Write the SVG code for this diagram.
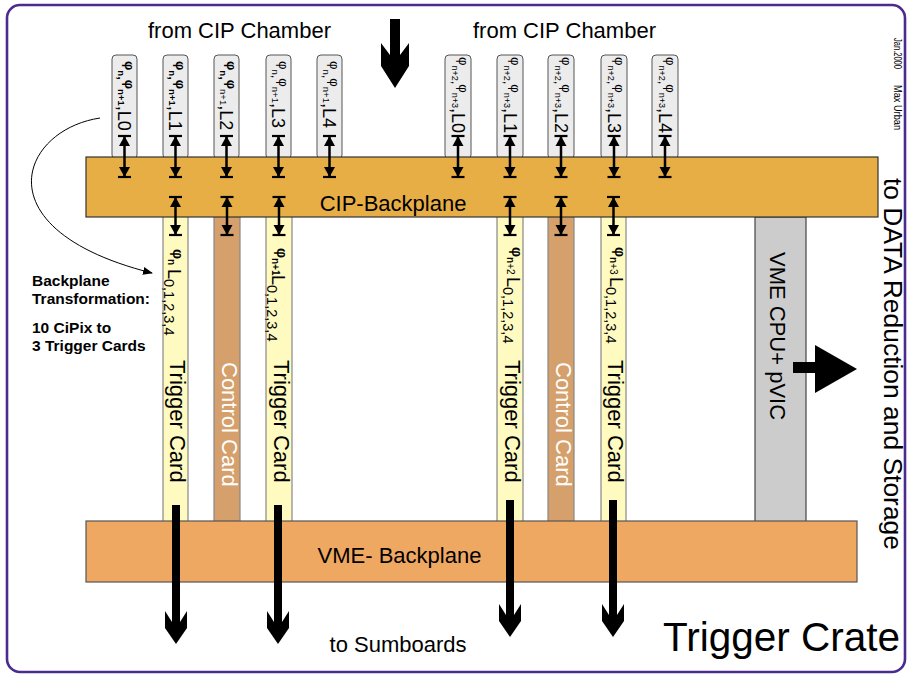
<svg xmlns="http://www.w3.org/2000/svg" width="909" height="675" viewBox="0 0 909 675">
<style>
text{font-family:"Liberation Sans",Arial,Helvetica,sans-serif;fill:#000}
.cip{fill:#ececec;stroke:#555;stroke-width:1}
.trig{fill:#fffac0;stroke:#888;stroke-width:1.2}
.ctrl{fill:#d5a06b;stroke:#888;stroke-width:1.2}
.bp1{fill:#e8ae46;stroke:#333;stroke-width:1.2}
.bp2{fill:#efa862;stroke:#555;stroke-width:1.2}
.cpu{fill:#cccccc;stroke:#444;stroke-width:1.2}
.dbl{stroke:#000;stroke-width:2.5;fill:none;marker-start:url(#cap);marker-end:url(#cap)}
.big{fill:#000;stroke:none}
.b{font-weight:bold}
.lbl{font-size:22px}
.wh{fill:#fff}
</style>
<defs>
<marker id="cap" viewBox="-12 -8 14 16" refX="0" refY="0" markerWidth="14" markerHeight="16" markerUnits="userSpaceOnUse" orient="auto-start-reverse">
<path d="M-10,-5.5 L0,0 L-10,5.5 Z" fill="#000"/>
<path d="M0,-6.5 V6.5" stroke="#000" stroke-width="2.2"/>
</marker>
<marker id="thin" viewBox="0 0 10 10" refX="9" refY="5" markerWidth="10" markerHeight="10" markerUnits="userSpaceOnUse" orient="auto">
<path d="M0,1 L10,5 L0,9 Z" fill="#000"/>
</marker>
</defs>

<rect id="frame" x="7" y="5" width="898" height="667" rx="13" fill="#fff" stroke="#4b2b8e" stroke-width="2.6"/>

<!-- CiPix cards -->
<g id="cip1"><rect class="cip" x="112" y="55" width="25" height="104" rx="4"/>
<text transform="translate(118,61) rotate(90)" class="b"><tspan font-size="13" dy="-7">φ</tspan><tspan font-size="9.5" dy="7">n</tspan><tspan font-size="13">,</tspan><tspan font-size="13" dy="-7">φ</tspan><tspan font-size="9.5" dy="7">n+1</tspan><tspan font-size="18" font-weight="normal">,L0</tspan></text></g>
<g id="cip2"><rect class="cip" x="163" y="55" width="25" height="104" rx="4"/>
<text transform="translate(169,61) rotate(90)" class="b"><tspan font-size="13" dy="-7">φ</tspan><tspan font-size="9.5" dy="7">n</tspan><tspan font-size="13">,</tspan><tspan font-size="13" dy="-7">φ</tspan><tspan font-size="9.5" dy="7">n+1</tspan><tspan font-size="18" font-weight="normal">,L1</tspan></text></g>
<g id="cip3"><rect class="cip" x="214" y="55" width="25" height="104" rx="4"/>
<text transform="translate(220,61) rotate(90)" class="b"><tspan font-size="13" dy="-7">φ</tspan><tspan font-size="9.5" dy="7">n</tspan><tspan font-size="13">,</tspan><tspan font-size="13" dy="-7">φ</tspan><tspan font-size="9.5" dy="7" font-weight="normal">n+1</tspan><tspan font-size="18" font-weight="normal">,L2</tspan></text></g>
<g id="cip4"><rect class="cip" x="266" y="55" width="25" height="104" rx="4"/>
<text transform="translate(272,61) rotate(90)"><tspan font-size="13" dy="-7">φ</tspan><tspan font-size="9.5" dy="7">n</tspan><tspan font-size="13">,</tspan><tspan font-size="13" dy="-7">φ</tspan><tspan font-size="9.5" dy="7">n+1</tspan><tspan font-size="18">,L3</tspan></text></g>
<g id="cip5"><rect class="cip" x="317" y="55" width="25" height="104" rx="4"/>
<text transform="translate(323,61) rotate(90)"><tspan font-size="13" dy="-7">φ</tspan><tspan font-size="9.5" dy="7">n</tspan><tspan font-size="13">,</tspan><tspan font-size="13" dy="-7">φ</tspan><tspan font-size="9.5" dy="7">n+1</tspan><tspan font-size="18">,L4</tspan></text></g>

<g id="cip6"><rect class="cip" x="445" y="55" width="26" height="104" rx="4"/>
<text transform="translate(451.5,57) rotate(90)"><tspan font-size="13" dy="-7">φ</tspan><tspan font-size="9" dy="7">n+2</tspan><tspan font-size="13">,</tspan><tspan font-size="13" dy="-7">φ</tspan><tspan font-size="9" dy="7">n+3</tspan><tspan font-size="18">,L0</tspan></text></g>
<g id="cip7"><rect class="cip" x="497" y="55" width="26" height="104" rx="4"/>
<text transform="translate(503.5,57) rotate(90)"><tspan font-size="13" dy="-7">φ</tspan><tspan font-size="9" dy="7">n+2</tspan><tspan font-size="13">,</tspan><tspan font-size="13" dy="-7">φ</tspan><tspan font-size="9" dy="7">n+3</tspan><tspan font-size="18">,L1</tspan></text></g>
<g id="cip8"><rect class="cip" x="548" y="55" width="26" height="104" rx="4"/>
<text transform="translate(554.5,57) rotate(90)"><tspan font-size="13" dy="-7">φ</tspan><tspan font-size="9" dy="7">n+2</tspan><tspan font-size="13">,</tspan><tspan font-size="13" dy="-7">φ</tspan><tspan font-size="9" dy="7">n+3</tspan><tspan font-size="18">,L2</tspan></text></g>
<g id="cip9"><rect class="cip" x="601" y="55" width="26" height="104" rx="4"/>
<text transform="translate(607.5,57) rotate(90)"><tspan font-size="13" dy="-7">φ</tspan><tspan font-size="9" dy="7">n+2</tspan><tspan font-size="13">,</tspan><tspan font-size="13" dy="-7">φ</tspan><tspan font-size="9" dy="7">n+3</tspan><tspan font-size="18">,L3</tspan></text></g>
<g id="cip10"><rect class="cip" x="652" y="55" width="26" height="104" rx="4"/>
<text transform="translate(658.5,57) rotate(90)"><tspan font-size="13" dy="-7">φ</tspan><tspan font-size="9" dy="7">n+2</tspan><tspan font-size="13">,</tspan><tspan font-size="13" dy="-7">φ</tspan><tspan font-size="9" dy="7">n+3</tspan><tspan font-size="18">,L4</tspan></text></g>

<!-- Trigger / control cards -->
<g id="trig1"><rect class="trig" x="163" y="215" width="25" height="307"/>
<text transform="translate(173,249) rotate(90)" class="b"><tspan font-size="14">φ</tspan><tspan font-size="10" dy="5">n</tspan></text>
<text transform="translate(168,269) rotate(90)"><tspan font-size="18">L</tspan><tspan font-size="14.5" dy="4.5">0,1,2,3,4</tspan></text>
<text transform="translate(170,360) rotate(90)" class="lbl">Trigger Card</text></g>
<g id="ctrl1"><rect class="ctrl" x="214" y="215" width="26" height="307"/>
<text transform="translate(221.5,362) rotate(90)" class="lbl wh">Control Card</text></g>
<g id="trig2"><rect class="trig" x="266" y="215" width="26" height="307"/>
<text transform="translate(276.5,248) rotate(90)" class="b"><tspan font-size="14">φ</tspan><tspan font-size="10" dy="5">n+1</tspan></text>
<text transform="translate(271.5,275) rotate(90)"><tspan font-size="18">L</tspan><tspan font-size="14.5" dy="4.5">0,1,2,3,4</tspan></text>
<text transform="translate(273.5,360) rotate(90)" class="lbl">Trigger Card</text></g>

<g id="trig3"><rect class="trig" x="497" y="215" width="26" height="307"/>
<text transform="translate(512,247) rotate(90)"><tspan font-size="14" class="b">φ</tspan><tspan font-size="10" dy="5"><tspan class="b">n</tspan>+2</tspan></text>
<text transform="translate(507,277) rotate(90)"><tspan font-size="18">L</tspan><tspan font-size="14.5" dy="4.5">0,1,2,3,4</tspan></text>
<text transform="translate(504.5,360) rotate(90)" class="lbl">Trigger Card</text></g>
<g id="ctrl2"><rect class="ctrl" x="548" y="215" width="26" height="307"/>
<text transform="translate(555.5,362) rotate(90)" class="lbl wh">Control Card</text></g>
<g id="trig4"><rect class="trig" x="601" y="215" width="25" height="307"/>
<text transform="translate(615,247) rotate(90)"><tspan font-size="14" class="b">φ</tspan><tspan font-size="10" dy="5"><tspan class="b">n</tspan>+3</tspan></text>
<text transform="translate(610,277) rotate(90)"><tspan font-size="18">L</tspan><tspan font-size="14.5" dy="4.5">0,1,2,3,4</tspan></text>
<text transform="translate(608,360) rotate(90)" class="lbl">Trigger Card</text></g>

<g id="vmecpu"><rect class="cpu" x="755" y="217" width="51" height="305"/>
<text transform="translate(770,252) rotate(90)" class="lbl">VME CPU+ pVIC</text></g>

<!-- Backplanes -->
<g id="cipbp"><rect class="bp1" x="86" y="157" width="792" height="60"/>
<text x="393" y="211" text-anchor="middle" class="lbl">CIP-Backplane</text></g>
<g id="vmebp"><rect class="bp2" x="86" y="521" width="771" height="61"/>
<text x="399.5" y="563" text-anchor="middle" class="lbl">VME- Backplane</text></g>

<!-- Labels -->
<g id="labels">
<text x="239.5" y="38" text-anchor="middle" class="lbl">from CIP Chamber</text>
<text x="564.5" y="38" text-anchor="middle" class="lbl">from CIP Chamber</text>
<text x="398" y="652" text-anchor="middle" class="lbl">to Sumboards</text>
<text x="663" y="651" font-size="40.5">Trigger Crate</text>
<text transform="translate(883.5,178) rotate(90)" font-size="26" textLength="372" lengthAdjust="spacingAndGlyphs">to DATA Reduction and Storage</text>
<text transform="translate(894,38) rotate(90)" font-size="11" textLength="31" lengthAdjust="spacingAndGlyphs">Jan.2000</text>
<text transform="translate(894,85) rotate(90)" font-size="11" textLength="45" lengthAdjust="spacingAndGlyphs">Max Urban</text>
<g class="b" font-size="15.5">
<text x="32" y="286">Backplane</text>
<text x="32" y="304">Transformation:</text>
<text x="32" y="333">10 CiPix to</text>
<text x="32" y="351">3 Trigger Cards</text>
</g>
</g>

<!-- Connectors -->
<g id="connectors">
<line class="dbl" x1="124.5" y1="136" x2="124.5" y2="177"/>
<line class="dbl" x1="175.5" y1="136" x2="175.5" y2="177"/>
<line class="dbl" x1="226.5" y1="136" x2="226.5" y2="177"/>
<line class="dbl" x1="278.5" y1="136" x2="278.5" y2="177"/>
<line class="dbl" x1="329.5" y1="136" x2="329.5" y2="177"/>
<line class="dbl" x1="458" y1="136" x2="458" y2="177"/>
<line class="dbl" x1="510" y1="136" x2="510" y2="177"/>
<line class="dbl" x1="561" y1="136" x2="561" y2="177"/>
<line class="dbl" x1="614" y1="136" x2="614" y2="177"/>
<line class="dbl" x1="665" y1="136" x2="665" y2="177"/>
<line class="dbl" x1="175.5" y1="197" x2="175.5" y2="235"/>
<line class="dbl" x1="227" y1="197" x2="227" y2="235"/>
<line class="dbl" x1="279" y1="197" x2="279" y2="235"/>
<line class="dbl" x1="510" y1="197" x2="510" y2="235"/>
<line class="dbl" x1="561" y1="197" x2="561" y2="235"/>
<line class="dbl" x1="613.5" y1="197" x2="613.5" y2="235"/>
<path d="M100,118 C20,130 -20,230 152,273" fill="none" stroke="#000" stroke-width="1" marker-end="url(#thin)"/>
<polygon class="big" points="390,19 400,19 400,55 409,43 409,66 395,88 381,66 381,43 390,55"/>
<polygon class="big" points="172,505 180,505 180,622 187,611 187,628 176,644 165,628 165,611 172,622"/>
<polygon class="big" points="274,505 282,505 282,622 289,611 289,628 278,644 267,628 267,611 274,622"/>
<polygon class="big" points="506,500 514,500 514,615 521,604 521,621 510,637 499,621 499,604 506,615"/>
<polygon class="big" points="609,500 617,500 617,615 624,604 624,621 613,637 602,621 602,604 609,615"/>
<polygon class="big" points="793,362 815,362 815,345 857,369 815,393 815,373 793,373"/>
</g>
</svg>
